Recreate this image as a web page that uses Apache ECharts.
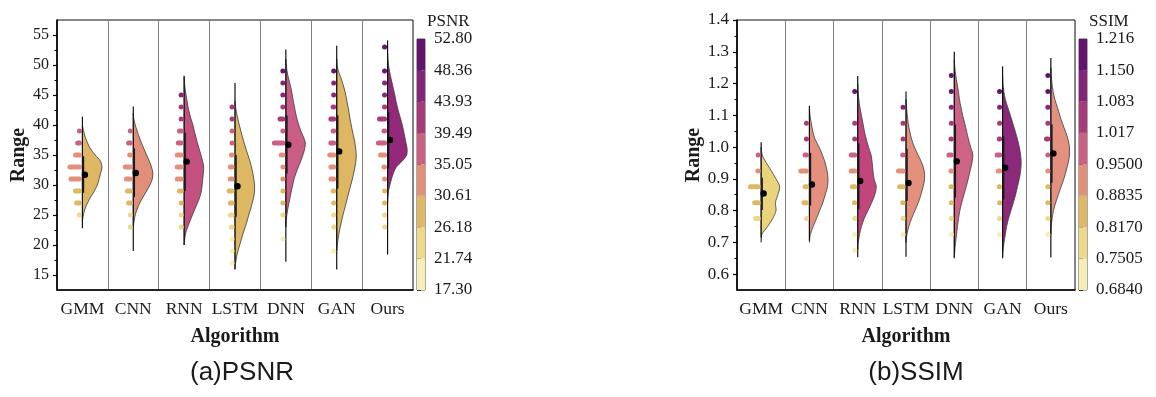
<!DOCTYPE html>
<html><head><meta charset="utf-8">
<script src="https://cdn.jsdelivr.net/npm/echarts@6/dist/echarts.min.js"></script>
<style>html,body{margin:0;padding:0;background:#fff}#c{width:1156px;height:397px}</style>
</head><body><div id="c"></div>
<script>
// ---------------- DATA ----------------
const CATEGORIES = ['GMM', 'CNN', 'RNN', 'LSTM', 'DNN', 'GAN', 'Ours'];

// PSNR panel
const PSNR_TICKS = [15, 20, 25, 30, 35, 40, 45, 50, 55];
const PSNR_CB_TICKS = ['17.30', '21.74', '26.18', '30.61', '35.05', '39.49', '43.93', '48.36', '52.80'];
const PSNR_MEAN = [31.7, 32.0, 33.9, 29.8, 36.7, 35.6, 37.5];
const PSNR_ERR_LOW = [28.7, 28.0, 29.0, 24.7, 31.9, 29.4, 32.7];
const PSNR_ERR_HIGH = [34.8, 36.1, 38.7, 35.0, 41.6, 41.6, 42.2];
const PSNR_TAIL_MIN = [22.8, 19.0, 20.0, 15.9, 17.2, 15.9, 18.4];
const PSNR_TAIL_MAX = [41.4, 43.1, 48.2, 47.0, 52.6, 53.2, 54.1];
const PSNR_DENSITY_Y = [15,16,17,18,19,20,21,22,23,24,25,26,27,28,29,30,31,32,33,34,35,36,37,38,39,40,41,42,43,44,45,46,47,48,49,50,51,52,53,54,55];
const PSNR_DENSITY_GMM  = [0,0,0,0,0,0,0,0,0,0, 0.05,0.13,0.26,0.42,0.61,0.76,0.85,0.93,1.0,0.92, 0.65,0.42,0.26,0.14,0.06,0,0,0,0,0, 0,0,0,0,0,0,0,0,0,0, 0];
const PSNR_DENSITY_CNN  = [0,0,0,0,0,0,0,0,0,0.04, 0.1,0.2,0.33,0.5,0.68,0.85,0.97,1.0,0.93,0.82, 0.68,0.55,0.42,0.3,0.2,0.1,0.03,0,0,0, 0,0,0,0,0,0,0,0,0,0, 0];
const PSNR_DENSITY_RNN  = [0,0,0,0,0,0,0.03,0.08,0.18,0.3, 0.42,0.55,0.68,0.8,0.88,0.92,0.95,0.98,1.0,0.94, 0.86,0.77,0.68,0.6,0.52,0.45,0.35,0.27,0.2,0.15, 0.1,0.05,0.02,0,0,0,0,0,0,0, 0];
const PSNR_DENSITY_LSTM = [0,0,0.03,0.08,0.15,0.24,0.33,0.42,0.52,0.62, 0.7,0.8,0.88,0.96,1.0,1.0,0.96,0.91,0.84,0.76, 0.66,0.56,0.47,0.38,0.3,0.22,0.15,0.08,0.03,0, 0,0,0,0,0,0,0,0,0,0, 0];
const PSNR_DENSITY_DNN  = [0,0,0,0,0,0,0,0,0,0.02, 0.05,0.1,0.16,0.22,0.28,0.35,0.42,0.52,0.64,0.76, 0.87,0.96,1.0,0.9,0.77,0.66,0.57,0.5,0.44,0.38, 0.33,0.27,0.2,0.12,0.06,0.02,0,0,0,0, 0];
const PSNR_DENSITY_GAN  = [0,0,0,0,0,0.03,0.07,0.12,0.18,0.25, 0.32,0.4,0.48,0.56,0.64,0.72,0.8,0.87,0.93,0.98, 1.0,0.97,0.93,0.87,0.8,0.74,0.68,0.63,0.58,0.52, 0.46,0.39,0.3,0.2,0.08,0.02,0,0,0,0, 0];
const PSNR_DENSITY_OURS = [0,0,0,0,0,0,0,0,0,0, 0,0,0,0.02,0.05,0.12,0.2,0.3,0.45,0.75, 0.98,1.0,0.94,0.88,0.82,0.75,0.67,0.58,0.5,0.43, 0.37,0.3,0.23,0.16,0.1,0.05,0.02,0,0,0, 0];
const PSNR_RAIN_Y = [17,19,21,23,25,27,29,31,33,35,37,39,41,43,45,47,49,51,53];
const PSNR_RAIN_GMM  = [0,0,0,0,3,7,8,12,13,8,6,4,0,0,0,0,0,0,0];
const PSNR_RAIN_CNN  = [0,0,0,3,3,6,7,8,9,5,6,4,0,0,0,0,0,0,0];
const PSNR_RAIN_RNN  = [0,0,0,3,3,3,6,8,8,8,7,6,3,4,3,0,0,0,0];
const PSNR_RAIN_LSTM = [1,2,2,5,6,6,7,6,6,5,4,4,3,3,0,0,0,0,0];
const PSNR_RAIN_DNN  = [0,0,1,0,2,2,3,4,4,6,12,4,7,3,3,3,2,0,0];
const PSNR_RAIN_GAN  = [0,2,0,2,2,2,5,7,7,8,7,5,7,5,4,3,2,0,0];
const PSNR_RAIN_OURS = [0,0,0,1,1,2,2,3,5,8,10,5,9,4,3,2,2,0,1];

// SSIM panel
const SSIM_TICKS = [0.6, 0.7, 0.8, 0.9, 1.0, 1.1, 1.2, 1.3, 1.4];
const SSIM_CB_TICKS = ['0.6840', '0.7505', '0.8170', '0.8835', '0.9500', '1.017', '1.083', '1.150', '1.216'];
const SSIM_MEAN = [0.854, 0.882, 0.893, 0.887, 0.955, 0.935, 0.980];
const SSIM_ERR_LOW = [0.802, 0.816, 0.804, 0.830, 0.841, 0.835, 0.888];
const SSIM_ERR_HIGH = [0.903, 0.982, 1.011, 0.995, 1.071, 1.034, 1.071];
const SSIM_TAIL_MIN = [0.715, 0.705, 0.653, 0.655, 0.652, 0.652, 0.652];
const SSIM_TAIL_MAX = [1.015, 1.130, 1.224, 1.175, 1.300, 1.254, 1.280];
const SSIM_DENSITY_Y = [0.65,0.675,0.7,0.725,0.75,0.775,0.8,0.825,0.85,0.875,0.9,0.925,0.95,0.975,1.0,1.025,1.05,1.075,1.1,1.125,1.15,1.175,1.2,1.225,1.25,1.275,1.3];
const SSIM_DENSITY_GMM  = [0,0,0,0.04,0.35,0.62,0.8,0.77,0.9,1.0, 0.8,0.55,0.28,0.06,0,0,0,0,0,0, 0,0,0,0,0,0,0];
const SSIM_DENSITY_CNN  = [0,0,0,0.05,0.2,0.38,0.55,0.72,0.85,0.97, 1.0,0.95,0.85,0.7,0.52,0.3,0.18,0.1,0.03,0, 0,0,0,0,0,0,0];
const SSIM_DENSITY_RNN  = [0,0,0.03,0.1,0.2,0.35,0.55,0.75,0.92,1.0, 0.88,0.82,0.78,0.72,0.58,0.46,0.36,0.28,0.2,0.12, 0.06,0.02,0,0,0,0,0];
const SSIM_DENSITY_LSTM = [0,0,0,0.05,0.15,0.3,0.48,0.66,0.8,0.92, 1.0,0.98,0.85,0.65,0.45,0.3,0.2,0.12,0.07,0.03, 0,0,0,0,0,0,0];
const SSIM_DENSITY_DNN  = [0,0.03,0.07,0.12,0.17,0.23,0.3,0.4,0.52,0.64, 0.75,0.85,0.95,1.0,0.88,0.76,0.66,0.56,0.45,0.36, 0.28,0.22,0.15,0.08,0.03,0,0];
const SSIM_DENSITY_GAN  = [0,0.03,0.08,0.15,0.22,0.32,0.45,0.58,0.7,0.8, 0.9,0.97,1.0,0.97,0.9,0.8,0.68,0.55,0.42,0.28, 0.15,0.07,0.02,0,0,0,0];
const SSIM_DENSITY_OURS = [0,0,0,0,0.02,0.07,0.14,0.26,0.4,0.55, 0.7,0.82,0.93,1.0,1.0,0.92,0.78,0.62,0.48,0.35, 0.22,0.12,0.06,0.02,0,0,0];
const SSIM_RAIN_Y = [0.675,0.725,0.775,0.825,0.875,0.925,0.975,1.025,1.075,1.125,1.175,1.225];
const SSIM_RAIN_GMM  = [0,0,7,8,12,5,3,0,0,0,0,0];
const SSIM_RAIN_CNN  = [0,0,3,7,6,10,6,3,3,0,0,0];
const SSIM_RAIN_RNN  = [2,2,3,5,7,8,8,4,4,0,3,0];
const SSIM_RAIN_LSTM = [0,2,4,5,8,9,5,3,3,3,0,0];
const SSIM_RAIN_DNN  = [0,2,3,4,5,5,7,5,4,4,3,2];
const SSIM_RAIN_GAN  = [0,2,3,3,5,6,7,5,4,3,2,0];
const SSIM_RAIN_OURS = [0,2,2,3,3,3,4,6,3,3,2,2];

// ---------------- STYLE ----------------
const PALETTE = ['#f7eeb5', '#ecd98a', '#dfb865', '#e3907a', '#cc5f84', '#a83a7b', '#85257a', '#64146e'];
const PSNR_VIOLIN_COLORS = ['#ddb762', '#e28f79', '#c4507f', '#ddb762', '#ca5c87', '#ddb762', '#94297c'];
const SSIM_VIOLIN_COLORS = ['#e9d37c', '#e3917e', '#c2467b', '#e3917e', '#cf6385', '#8c297b', '#e3917e'];
const SERIF = 'Liberation Serif';
const TXT = '#1a1a1a';

const PSNR_DENSITY = [PSNR_DENSITY_GMM, PSNR_DENSITY_CNN, PSNR_DENSITY_RNN, PSNR_DENSITY_LSTM, PSNR_DENSITY_DNN, PSNR_DENSITY_GAN, PSNR_DENSITY_OURS];
const PSNR_RAIN = [PSNR_RAIN_GMM, PSNR_RAIN_CNN, PSNR_RAIN_RNN, PSNR_RAIN_LSTM, PSNR_RAIN_DNN, PSNR_RAIN_GAN, PSNR_RAIN_OURS];
const SSIM_DENSITY = [SSIM_DENSITY_GMM, SSIM_DENSITY_CNN, SSIM_DENSITY_RNN, SSIM_DENSITY_LSTM, SSIM_DENSITY_DNN, SSIM_DENSITY_GAN, SSIM_DENSITY_OURS];
const SSIM_RAIN = [SSIM_RAIN_GMM, SSIM_RAIN_CNN, SSIM_RAIN_RNN, SSIM_RAIN_LSTM, SSIM_RAIN_DNN, SSIM_RAIN_GAN, SSIM_RAIN_OURS];

function midpoints(t) { const r = []; for (let k = 0; k < t.length - 1; k++) r.push((t[k] + t[k + 1]) / 2); return r; }

function bandWidth(api, y) { return api.coord([1, y])[0] - api.coord([0, y])[0]; }

function violinRender(densY, dens, colors, tmin, tmax) {
  return function (params, api) {
    const i = params.dataIndex;
    const W = bandWidth(api, densY[0]) * 0.385;
    const d = dens[i];
    let first = 0; while (first < d.length && d[first] <= 0) first++;
    let last = d.length - 1; while (last > 0 && d[last] <= 0) last--;
    const s = Math.max(0, first - 1), e = Math.min(d.length - 1, last + 1);
    const pts = [];
    for (let k = s; k <= e; k++) {
      const p = api.coord([i, densY[k]]);
      pts.push([p[0] + d[k] * W, p[1]]);
    }
    let minX = Infinity, minY = Infinity, maxX = -Infinity, maxY = -Infinity;
    pts.forEach(p => { minX = Math.min(minX, p[0]); maxX = Math.max(maxX, p[0]); minY = Math.min(minY, p[1]); maxY = Math.max(maxY, p[1]); });
    const c0 = api.coord([i, tmin[i]]), c1 = api.coord([i, tmax[i]]);
    return {
      type: 'group', children: [
        { type: 'polygon', shape: { points: pts, smooth: 0.3, smoothConstraint: [[minX, minY], [maxX, maxY]] },
          style: { fill: colors[i], stroke: '#3b3b3b', lineWidth: 0.8 } },
        { type: 'line', shape: { x1: c0[0], y1: c0[1], x2: c1[0], y2: c1[1] },
          style: { stroke: '#111', lineWidth: 1.2 } }
      ]
    };
  };
}
function rainRender(items) {
  return function (params, api) {
    const it = items[params.dataIndex];
    const p = api.coord([it[0], it[1]]);
    const th = 5;
    const len = Math.max(th, it[2] * bandWidth(api, it[1]) * 0.022);
    return { type: 'rect', shape: { x: p[0] - len - 0.5, y: p[1] - th / 2, width: len, height: th, r: th / 2 },
      style: { fill: api.visual('color') } };
  };
}
function meanRender(mean, lo, hi) {
  return function (params, api) {
    const i = params.dataIndex;
    const m = api.coord([i, mean[i]]);
    const a = api.coord([i, lo[i]]), b = api.coord([i, hi[i]]);
    return { type: 'group', children: [
      { type: 'line', shape: { x1: m[0] + 1, y1: a[1], x2: m[0] + 1, y2: b[1] }, style: { stroke: '#1a1a1a', lineWidth: 1.5 } },
      { type: 'circle', shape: { cx: m[0] + 2.5, cy: m[1], r: 3.2 }, style: { fill: '#000' } }
    ] };
  };
}
function cbRender(items) {
  return function (params, api) {
    const it = items[params.dataIndex];
    const a = api.coord([0, it[3]]), b = api.coord([1, it[2]]);
    return { type: 'rect', shape: { x: a[0], y: a[1], width: b[0] - a[0], height: b[1] - a[1] }, style: { fill: api.visual('color') } };
  };
}

function rainData(rainY, rain) {
  const out = [];
  rain.forEach((arr, i) => arr.forEach((c, k) => { if (c > 0) out.push([i, rainY[k], c]); }));
  return out;
}
function cbData(ticks) {
  const out = [];
  for (let k = 0; k < ticks.length - 1; k++) {
    const lo = Number(ticks[k]), hi = Number(ticks[k + 1]);
    out.push([0.5, (lo + hi) / 2, lo, hi]);
  }
  return out;
}
function pieces(ticks) {
  const out = [];
  for (let k = 0; k < ticks.length - 1; k++) {
    const pc = { color: PALETTE[k] };
    if (k > 0) pc.gte = Number(ticks[k]);
    if (k < ticks.length - 2) pc.lt = Number(ticks[k + 1]);
    out.push(pc);
  }
  return out;
}
function catAxis(grid) {
  return {
    type: 'category', gridIndex: grid, data: CATEGORIES, boundaryGap: true,
    axisLine: { lineStyle: { color: '#000', width: 1.6 } },
    axisTick: { alignWithLabel: true, length: 4, lineStyle: { color: '#000', width: 1.2 } },
    axisLabel: { interval: 0, fontFamily: SERIF, fontSize: 17.5, color: TXT, margin: 10 },
    splitLine: { show: true, interval: 0, lineStyle: { color: '#808080', width: 1 } },
    name: 'Algorithm', nameLocation: 'middle', nameGap: 37,
    nameTextStyle: { fontFamily: SERIF, fontSize: 20, fontWeight: 'bold', color: TXT }
  };
}
function valAxis(grid, min, max, ticks, fmt, fs, gap) {
  return {
    type: 'value', gridIndex: grid, min: min, max: max, position: 'left',
    axisLine: { show: true, lineStyle: { color: '#000', width: 1.6 } },
    axisTick: { show: true, length: 4, customValues: ticks, lineStyle: { color: '#000', width: 1.2 } },
    axisLabel: { customValues: ticks, formatter: fmt, fontFamily: SERIF, fontSize: fs, color: TXT, margin: 8 },
    splitLine: { show: false },
    name: 'Range', nameLocation: 'middle', nameGap: gap, nameRotate: 90,
    nameTextStyle: { fontFamily: SERIF, fontSize: 20, fontWeight: 'bold', color: TXT }
  };
}
function minorAxis(grid, min, max, ticks) {
  return {
    type: 'value', gridIndex: grid, min: min, max: max, position: 'left',
    axisLine: { show: false }, axisLabel: { show: false }, splitLine: { show: false },
    axisTick: { show: true, length: 2.5, customValues: midpoints(ticks), lineStyle: { color: '#000', width: 1 } }
  };
}
function cbAxis(grid, ticks, title) {
  const nums = ticks.map(Number);
  return {
    type: 'value', gridIndex: grid, position: 'right', min: nums[0], max: nums[nums.length - 1],
    axisLine: { show: false },
    axisTick: { show: true, length: 4, customValues: nums, lineStyle: { color: '#333', width: 1 } },
    axisLabel: { customValues: nums, margin: 9, fontFamily: SERIF, fontSize: 17, color: TXT,
      formatter: v => { const s = ticks.find(t => Math.abs(Number(t) - v) < 1e-6); return s === undefined ? '' : s; } },
    splitLine: { show: false },
    name: title, nameLocation: 'end', nameGap: 9,
    nameTextStyle: { fontFamily: SERIF, fontSize: 17, color: TXT, align: 'left', padding: [0, 0, 0, 10] }
  };
}

const psnrRain = rainData(PSNR_RAIN_Y, PSNR_RAIN);
const ssimRain = rainData(SSIM_RAIN_Y, SSIM_RAIN);
const psnrCb = cbData(PSNR_CB_TICKS);
const ssimCb = cbData(SSIM_CB_TICKS);

const chart = echarts.init(document.getElementById('c'), null, { renderer: 'canvas' });
const gridBase = { show: true, backgroundColor: 'transparent', borderColor: '#111', borderWidth: 1, containLabel: false };
chart.setOption({
  animation: false,
  backgroundColor: '#fff',
  grid: [
    Object.assign({ left: 57, top: 20, width: 356, height: 270 }, gridBase),
    Object.assign({ left: 417, top: 39, width: 8, height: 251 }, gridBase, { borderColor: '#555' }),
    Object.assign({ left: 737, top: 20, width: 338, height: 270 }, gridBase),
    Object.assign({ left: 1079, top: 39, width: 8, height: 251 }, gridBase, { borderColor: '#555' })
  ],
  xAxis: [
    catAxis(0),
    { type: 'value', gridIndex: 1, min: 0, max: 1, show: false },
    catAxis(2),
    { type: 'value', gridIndex: 3, min: 0, max: 1, show: false }
  ],
  yAxis: [
    valAxis(0, 12.5, 57.5, PSNR_TICKS, v => String(v), 16, 28),
    minorAxis(0, 12.5, 57.5, PSNR_TICKS),
    cbAxis(1, PSNR_CB_TICKS, 'PSNR'),
    valAxis(2, 0.55, 1.4, SSIM_TICKS, v => v.toFixed(1), 17, 32),
    minorAxis(2, 0.55, 1.4, SSIM_TICKS),
    cbAxis(3, SSIM_CB_TICKS, 'SSIM')
  ],
  visualMap: [
    { type: 'piecewise', show: false, dimension: 1, seriesIndex: [1, 3], pieces: pieces(PSNR_CB_TICKS) },
    { type: 'piecewise', show: false, dimension: 1, seriesIndex: [5, 7], pieces: pieces(SSIM_CB_TICKS) }
  ],
  series: [
    { type: 'custom', name: 'PSNR violin', xAxisIndex: 0, yAxisIndex: 0, z: 2,
      renderItem: violinRender(PSNR_DENSITY_Y, PSNR_DENSITY, PSNR_VIOLIN_COLORS, PSNR_TAIL_MIN, PSNR_TAIL_MAX),
      encode: { x: 0, y: 1 }, data: CATEGORIES.map((c, i) => [c, PSNR_MEAN[i]]) },
    { type: 'custom', name: 'PSNR rain', xAxisIndex: 0, yAxisIndex: 0, z: 3, renderItem: rainRender(psnrRain),
      encode: { x: 0, y: 1 }, data: psnrRain.map(r => [CATEGORIES[r[0]], r[1], r[2]]) },
    { type: 'custom', name: 'PSNR mean', xAxisIndex: 0, yAxisIndex: 0, z: 4,
      renderItem: meanRender(PSNR_MEAN, PSNR_ERR_LOW, PSNR_ERR_HIGH),
      encode: { x: 0, y: 1 }, data: CATEGORIES.map((c, i) => [c, PSNR_MEAN[i]]) },
    { type: 'custom', name: 'PSNR colorbar', xAxisIndex: 1, yAxisIndex: 2, z: 1, renderItem: cbRender(psnrCb),
      encode: { x: 0, y: 1 }, data: psnrCb },
    { type: 'custom', name: 'SSIM violin', xAxisIndex: 2, yAxisIndex: 3, z: 2,
      renderItem: violinRender(SSIM_DENSITY_Y, SSIM_DENSITY, SSIM_VIOLIN_COLORS, SSIM_TAIL_MIN, SSIM_TAIL_MAX),
      encode: { x: 0, y: 1 }, data: CATEGORIES.map((c, i) => [c, SSIM_MEAN[i]]) },
    { type: 'custom', name: 'SSIM rain', xAxisIndex: 2, yAxisIndex: 3, z: 3, renderItem: rainRender(ssimRain),
      encode: { x: 0, y: 1 }, data: ssimRain.map(r => [CATEGORIES[r[0]], r[1], r[2]]) },
    { type: 'custom', name: 'SSIM mean', xAxisIndex: 2, yAxisIndex: 3, z: 4,
      renderItem: meanRender(SSIM_MEAN, SSIM_ERR_LOW, SSIM_ERR_HIGH),
      encode: { x: 0, y: 1 }, data: CATEGORIES.map((c, i) => [c, SSIM_MEAN[i]]) },
    { type: 'custom', name: 'SSIM colorbar', xAxisIndex: 3, yAxisIndex: 5, z: 1, renderItem: cbRender(ssimCb),
      encode: { x: 0, y: 1 }, data: ssimCb }
  ],
  graphic: [
    { type: 'text', x: 242, y: 373, style: { text: '(a)PSNR', font: '26px "Liberation Sans"', fill: TXT, textAlign: 'center', textVerticalAlign: 'middle' } },
    { type: 'text', x: 916, y: 373, style: { text: '(b)SSIM', font: '26px "Liberation Sans"', fill: TXT, textAlign: 'center', textVerticalAlign: 'middle' } }
  ]
});
</script></body></html>
